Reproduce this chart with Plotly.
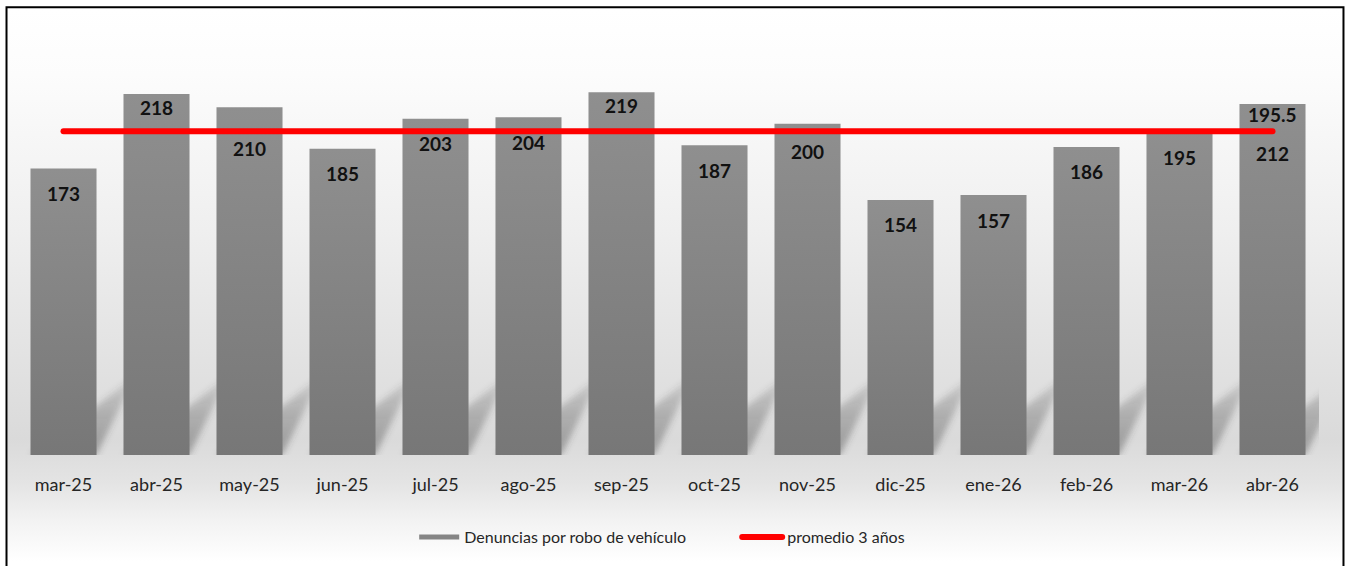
import base64
import plotly.graph_objects as go

# ---- data -------------------------------------------------------------
months = ["mar-25", "abr-25", "may-25", "jun-25", "jul-25", "ago-25", "sep-25",
          "oct-25", "nov-25", "dic-25", "ene-26", "feb-26", "mar-26", "abr-26"]
denuncias = [173, 218, 210, 185, 203, 204, 219, 187, 200, 154, 157, 186, 195, 212]
promedio = [195.5] * len(months)

bar_name = "Denuncias por robo de vehículo"
line_name = "promedio 3 años"

# ---- geometry of the figure (pixels) -----------------------------------
W, H = 1352, 566
PL, PR, PT, PB = 16.5, 1319.5, 41, 459          # plot area edges
YMAX = 250
FONT = "Lato"


def px_x(p):
    return (p - PL) / (PR - PL)


def px_y(p):
    return (PB - p) / (PB - PT)


idx = list(range(len(months)))

fig = go.Figure()

fig.add_trace(go.Bar(
    x=idx, y=denuncias, name=bar_name, width=0.71,
    marker=dict(color="#838383", line=dict(width=0)),
    showlegend=False, hoverinfo="x+y",
))

fig.add_trace(go.Scatter(
    x=idx, y=promedio, name=line_name, mode="lines",
    line=dict(color="#ff0000", width=6),
    showlegend=False,
))

# legend entries (wide swatches)
fig.add_trace(go.Scatter(x=[None], y=[None], mode="lines", name=bar_name,
                         line=dict(color="#858585", width=5)))
fig.add_trace(go.Scatter(x=[None], y=[None], mode="lines", name=line_name,
                         line=dict(color="#ff0000", width=6)))

# value labels inside the bars, nudged clear of the average line
label_offset = {"abr-25": 14, "may-25": 41, "sep-25": 13, "nov-25": 28, "abr-26": 50}
annotations = []
for i, (m, v) in enumerate(zip(months, denuncias)):
    annotations.append(dict(
        x=i, y=v, xref="x", yref="y", text=f"<b>{v}</b>", showarrow=False,
        yshift=-label_offset.get(m, 25), yanchor="middle",
        font=dict(family=FONT, size=19, color="#111111"),
    ))
annotations.append(dict(
    x=idx[-1], y=promedio[-1], xref="x", yref="y", text=f"<b>{promedio[-1]}</b>",
    showarrow=False, yshift=17, yanchor="middle",
    font=dict(family=FONT, size=19, color="#111111"),
))

# floor shadow cast by each bar (softened in the page script below)
shapes = []
half = 0.355
shadow_top_r = 48   # y-units, far corner
shadow_top_l = 17   # y-units, near corner
shadow_dx = 0.42    # x-units
for i in idx:
    shapes.append(dict(
        type="path", xref="x", yref="y", layer="below",
        path=(f"M {i - half},0 L {i + half},0 "
              f"L {i + half + shadow_dx},{shadow_top_r} "
              f"L {i - half + shadow_dx},{shadow_top_l} Z"),
        fillcolor="rgba(80,80,80,0.3)", line=dict(width=0),
    ))

# outer frame
shapes.append(dict(type="rect", xref="paper", yref="paper",
                   x0=px_x(6), x1=px_x(1344), y0=px_y(580), y1=px_y(7),
                   line=dict(color="#000000", width=2), fillcolor="rgba(0,0,0,0)",
                   layer="above"))

# background gradient inside the frame
bg_svg = (
    '<svg xmlns="http://www.w3.org/2000/svg" width="100" height="100" '
    'preserveAspectRatio="none" viewBox="0 0 100 100">'
    '<defs><linearGradient id="g" x1="0" y1="0" x2="0" y2="1">'
    '<stop offset="0" stop-color="#ffffff"/>'
    '<stop offset="0.12" stop-color="#fcfcfc"/>'
    '<stop offset="0.40" stop-color="#efefef"/>'
    '<stop offset="0.62" stop-color="#e3e3e3"/>'
    '<stop offset="0.78" stop-color="#dadada"/>'
    '<stop offset="0.86" stop-color="#e4e4e4"/>'
    '<stop offset="0.93" stop-color="#f3f3f3"/>'
    '<stop offset="1" stop-color="#ffffff"/>'
    '</linearGradient></defs>'
    '<rect width="100" height="100" fill="url(#g)"/></svg>'
)
bg_uri = "data:image/svg+xml;base64," + base64.b64encode(bg_svg.encode()).decode()

fig.update_layout(
    width=W, height=H,
    margin=dict(l=PL, r=W - PR, t=PT, b=H - PB, pad=0),
    paper_bgcolor="#ffffff", plot_bgcolor="rgba(0,0,0,0)",
    font=dict(family=FONT, color="#262626"),
    bargap=0.29,
    xaxis=dict(
        range=[-0.5, len(months) - 0.5], tickmode="array", tickvals=idx,
        ticktext=months, showgrid=False, zeroline=False, showline=False,
        ticks="", ticklabelstandoff=17,
        tickfont=dict(family=FONT, size=18, color="#262626"),
    ),
    yaxis=dict(range=[0, YMAX], visible=False, showgrid=False, zeroline=False),
    legend=dict(
        orientation="h", x=px_x(414), xanchor="left", y=px_y(542),
        yanchor="middle", font=dict(family=FONT, size=16, color="#262626"),
        bgcolor="rgba(0,0,0,0)", itemwidth=40, entrywidth=268,
    ),
    annotations=annotations,
    shapes=shapes,
    images=[dict(
        source=bg_uri, xref="paper", yref="paper",
        x=px_x(7), y=px_y(8), sizex=px_x(1343) - px_x(7),
        sizey=px_y(8) - px_y(566), xanchor="left", yanchor="top",
        sizing="stretch", layer="below",
    )],
)

# vertical shading on the bars, soft floor shadows, rounded average line
post = """
var gd = document.getElementById('{plot_id}');
var ns = 'http://www.w3.org/2000/svg';
var svg = gd.querySelector('svg.main-svg');
var defs = svg.querySelector('defs');
function grad(id, stops) {
  var lg = document.createElementNS(ns, 'linearGradient');
  lg.setAttribute('id', id);
  lg.setAttribute('x1', '0'); lg.setAttribute('y1', '0');
  lg.setAttribute('x2', '0'); lg.setAttribute('y2', '1');
  stops.forEach(function (s) {
    var st = document.createElementNS(ns, 'stop');
    st.setAttribute('offset', s[0]);
    st.setAttribute('stop-color', s[1]);
    st.setAttribute('stop-opacity', s[2]);
    lg.appendChild(st);
  });
  defs.appendChild(lg);
}
grad('barShade', [['0', '#8f8f8f', 1], ['1', '#777777', 1]]);
grad('floorShade', [['0', '#444444', 0.12], ['0.5', '#444444', 0.3],
                    ['1', '#444444', 0.42]]);
var flt = document.createElementNS(ns, 'filter');
flt.setAttribute('id', 'floorBlur');
flt.setAttribute('x', '-50%'); flt.setAttribute('y', '-50%');
flt.setAttribute('width', '200%'); flt.setAttribute('height', '200%');
var gb = document.createElementNS(ns, 'feGaussianBlur');
gb.setAttribute('stdDeviation', '3');
flt.appendChild(gb);
defs.appendChild(flt);

gd.querySelectorAll('.barlayer .point path').forEach(function (p) {
  p.style.fill = 'url(#barShade)';
});
var nShadow = NSHADOW;
gd.querySelectorAll('.shapelayer path').forEach(function (p) {
  var k = +p.getAttribute('data-index');
  if (k < nShadow) {
    p.style.fill = 'url(#floorShade)';
    p.style.fillOpacity = 1;
    p.style.filter = 'url(#floorBlur)';
  }
});
gd.querySelectorAll('.js-line').forEach(function (p) {
  if ((p.style.stroke || '').indexOf('255, 0, 0') >= 0) {
    p.style.strokeLinecap = 'round';
  }
});
""".replace("NSHADOW", str(len(months)))

fig.write_html("out.html", post_script=post)
